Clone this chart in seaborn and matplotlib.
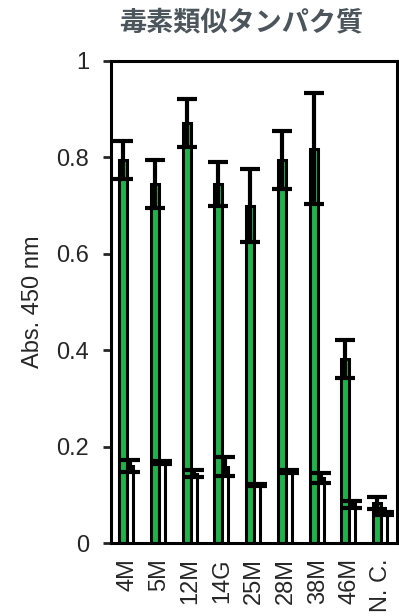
import numpy as np
import pandas as pd
import matplotlib
matplotlib.use('Agg')
import matplotlib.pyplot as plt
import seaborn as sns

# Data
samples = ['4M', '5M', '12M', '14G', '25M', '28M', '38M', '46M', 'N. C.']
green_vals = [0.795, 0.745, 0.872, 0.745, 0.700, 0.795, 0.818, 0.382, 0.083]
green_err = [0.040, 0.050, 0.050, 0.045, 0.075, 0.060, 0.115, 0.040, 0.012]
white_vals = [0.160, 0.167, 0.144, 0.158, 0.121, 0.148, 0.135, 0.080, 0.062]
white_err = [0.012, 0.003, 0.007, 0.020, 0.002, 0.003, 0.010, 0.008, 0.003]
series = ['A', 'B']

df = pd.DataFrame({
    'sample': samples * 2,
    'series': ['A'] * len(samples) + ['B'] * len(samples),
    'value': green_vals + white_vals,
})

sns.set_style('white')
plt.rcParams['font.family'] = ['Liberation Sans', 'DejaVu Sans']

fig = plt.figure(figsize=(3.99, 6.16), dpi=100)
ax = fig.add_axes([0.279, 0.1185, 0.716, 0.7825])

sns.barplot(data=df, x='sample', y='value', hue='series', order=samples,
            hue_order=series, palette=['#1fb34c', 'white'], width=0.5,
            edgecolor='black', linewidth=2.2, errorbar=None, legend=False,
            saturation=1, ax=ax)

# white bars are a bit narrower than the green ones
for b in ax.containers[1]:
    b.set_width(0.19)

# error bars on top of each bar
for bars, vals, errs in zip(ax.containers, [green_vals, white_vals], [green_err, white_err]):
    xs = [b.get_x() + b.get_width() / 2 for b in bars]
    ax.errorbar(xs, vals, yerr=errs, fmt='none', ecolor='black',
                elinewidth=3, capsize=7, capthick=3, zorder=5)

ax.set_xlim(-0.5, len(samples) - 0.5)
ax.set_ylim(0, 1)
ax.set_yticks([0, 0.2, 0.4, 0.6, 0.8, 1])
ax.set_yticklabels(['0', '0.2', '0.4', '0.6', '0.8', '1'], fontsize=17)
ax.set_xticks(range(len(samples)))
ax.set_xticklabels(samples, rotation=90, fontsize=17)
ax.set_xlabel('')
ax.set_ylabel('Abs. 450 nm', fontsize=17, labelpad=9)
ax.tick_params(axis='y', left=True, direction='out', length=6, width=2, pad=10)
ax.tick_params(axis='x', bottom=False, length=0, pad=11)
for s in ax.spines.values():
    s.set_color('black')
    s.set_linewidth(2.2)

fig.text(0.604, 1 - 22 / 616, '毒素類似タンパク質', ha='center', va='center',
         fontsize=19.5, fontweight='bold', color='#4b555b',
         family=['Noto Sans CJK JP', 'DejaVu Sans'])

fig.savefig('out.png', dpi=100)
